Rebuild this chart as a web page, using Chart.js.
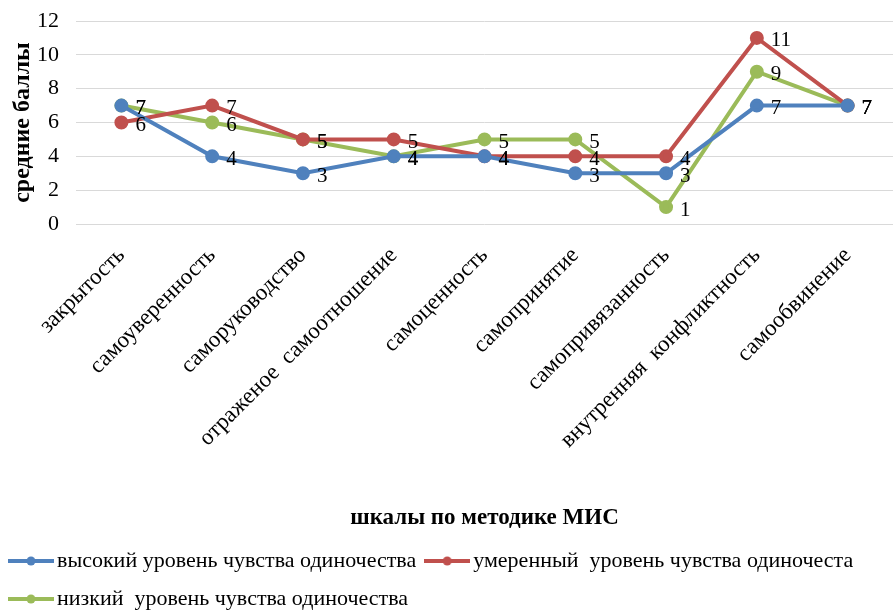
<!DOCTYPE html>
<html>
<head>
<meta charset="utf-8">
<script src="https://cdn.jsdelivr.net/npm/chart.js@4.4.1/dist/chart.umd.min.js"></script>
<style>
  html, body { margin: 0; padding: 0; background: #fff; }
  #wrap { width: 893px; height: 613px; }
</style>
</head>
<body>
<div id="wrap"><canvas id="chart"></canvas></div>
<script>
// шкалы методики МИС
var scales = ['закрытость', 'самоуверенность', 'саморуководство', 'отраженое  самоотношение',
    'самоценность', 'самопринятие', 'самопривязанность', 'внутренняя  конфликтность', 'самообвинение'];
var highLevel = [7, 4, 3, 4, 4, 3, 3, 7, 7];
var moderateLevel = [6, 7, 5, 5, 4, 4, 4, 11, 7];
var lowLevel = [7, 6, 5, 4, 5, 5, 1, 9, 7];
var yTicks = [0, 2, 4, 6, 8, 10, 12];

var serif = "'Liberation Serif', 'DejaVu Serif', serif";

// подписи значений справа от точек
var valueLabels = {
    id: 'valueLabels',
    afterDatasetsDraw: function (chart) {
        const ctx = chart.ctx;
        ctx.save();
        ctx.font = '21px ' + serif;
        ctx.fillStyle = '#000';
        ctx.textAlign = 'left';
        ctx.textBaseline = 'middle';
        chart.data.datasets.forEach(function (ds, i) {
            chart.getDatasetMeta(i).data.forEach(function (pt, j) {
                ctx.fillText(ds.data[j], pt.x + 14, pt.y + 3);
            });
        });
        ctx.restore();
    }
};

// значок легенды: линия с маркером
function legendMarker(color) {
    const c = document.createElement('canvas');
    c.width = 46;
    c.height = 10;
    const g = c.getContext('2d');
    g.strokeStyle = color;
    g.fillStyle = color;
    g.lineWidth = 4;
    g.beginPath();
    g.moveTo(0, 5);
    g.lineTo(46, 5);
    g.stroke();
    g.beginPath();
    g.arc(23, 5, 4.5, 0, Math.PI * 2);
    g.fill();
    return c;
}

function makeDataset(label, data, color) {
    return {
        label: label,
        data: data,
        borderColor: color,
        backgroundColor: color,
        borderWidth: 4,
        pointRadius: 5,
        pointHoverRadius: 5,
        tension: 0
    };
}

const ctx = document.getElementById('chart').getContext('2d');
new Chart(ctx, {
    type: 'line',
    data: {
        labels: scales,
        datasets: [
            makeDataset('высокий уровень чувства одиночества', highLevel, '#4F81BD'),
            makeDataset('умеренный  уровень чувства одиночеста', moderateLevel, '#C0504D'),
            makeDataset('низкий  уровень чувства одиночества', lowLevel, '#9BBB59')
        ]
    },
    options: {
        responsive: true,
        maintainAspectRatio: false,
        animation: false,
        layout: { autoPadding: false, padding: { top: 21, right: -4, left: 0, bottom: -7 } },
        scales: {
            x: {
                offset: true,
                afterFit: function (scale) {
                    // повёрнутые подписи не должны сдвигать область графика
                    scale.paddingLeft = 0;
                    scale.paddingRight = 0;
                    scale.height = 310;
                },
                grid: { display: false, drawTicks: false },
                border: { display: false },
                ticks: {
                    minRotation: 45,
                    maxRotation: 45,
                    autoSkip: false,
                    padding: 18,
                    color: '#000',
                    font: { family: serif, size: 23 }
                },
                title: {
                    display: true,
                    text: 'шкалы по методике МИС',
                    color: '#000',
                    font: { family: serif, size: 23, weight: 'bold' },
                    padding: { top: 33, bottom: 2 }
                }
            },
            y: {
                min: 0,
                max: 12,
                afterBuildTicks: function (axis) {
                    axis.ticks = yTicks.map(v => ({ value: v }));
                },
                afterFit: function (scale) {
                    scale.width = 76;
                    scale.paddingTop = 0;
                    scale.paddingBottom = 0;
                },
                grid: { color: '#d9d9d9', lineWidth: 1, drawTicks: false },
                border: { display: false },
                ticks: {
                    padding: 17,
                    color: '#000',
                    font: { family: serif, size: 22 }
                },
                title: {
                    display: true,
                    text: 'средние баллы',
                    color: '#000',
                    font: { family: serif, size: 24, weight: 'bold' },
                    padding: { top: 8, bottom: 0 }
                }
            }
        },
        plugins: {
            legend: {
                position: 'bottom',
                align: 'start',
                labels: {
                    usePointStyle: true,
                    pointStyleWidth: 30,
                    padding: 16,
                    color: '#000',
                    font: { family: serif, size: 22 },
                    generateLabels: function (chart) {
                        return Chart.defaults.plugins.legend.labels.generateLabels(chart)
                            .map((l, i) => Object.assign(l, {
                                pointStyle: legendMarker(chart.data.datasets[i].borderColor)
                            }));
                    }
                }
            },
            tooltip: { enabled: false }
        }
    },
    plugins: [valueLabels]
});
</script>
</body>
</html>
